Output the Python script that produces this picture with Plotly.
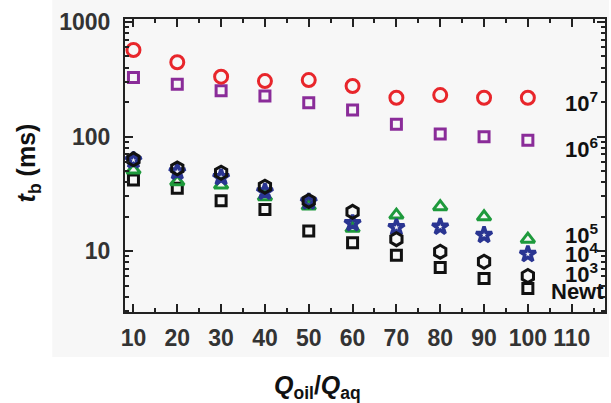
import plotly.graph_objects as go

# Oil-to-aqueous flow-rate ratio
ratio = [10, 20, 30, 40, 50, 60, 70, 80, 90, 100]

# Breakup time t_b (ms) for each molecular weight
tb_1e7 = [569, 445, 333, 305, 311, 276, 218, 230, 218, 218]
tb_1e6 = [327, 286, 251, 226, 197, 170, 128, 105, 99.5, 93]
tb_1e5 = [51, 40.3, 37.7, 29.8, 24.7, 15.8, 20.6, 24.4, 19.9, 12.7]
tb_1e4 = [62, 49.3, 44, 33, 27, 17.5, 16.1, 16.3, 13.8, 9.4]
tb_1e3 = [63.2, 52.7, 48.3, 36.5, 27.4, 22, 12.7, 9.86, 8.07, 6.05]
tb_newt = [41.7, 35.3, 27.5, 23.1, 15.0, 11.8, 9.2, 7.2, 5.77, 4.72]

x_ticks = [10, 20, 30, 40, 50, 60, 70, 80, 90, 100, 110]
y_ticks = [10, 100, 1000]

series = [
    ("Newt", tb_newt, "square-open", "#111111", 10, 3),
    ("10^5", tb_1e5, "triangle-up-open", "#1e9a3c", 12, 3),
    ("10^4", tb_1e4, "star-open", "#2a3592", 12, 3.5),
    ("10^3", tb_1e3, "hexagon-open", "#111111", 13, 3),
    ("10^6", tb_1e6, "square-open", "#8a2c99", 10, 3),
    ("10^7", tb_1e7, "circle-open", "#e8262b", 13, 3),
]

fig = go.Figure()
for name, vals, sym, col, size, lw in series:
    fig.add_trace(go.Scatter(
        x=ratio, y=vals, mode="markers", name=name,
        marker=dict(symbol=sym, size=size, color=col,
                    line=dict(color=col, width=lw)),
        showlegend=False,
    ))

font_main = "Liberation Sans, Arial, sans-serif"
W, H = 611, 403
L, R, T, B = 125, 4, 19, 91
pw, ph = W - L - R, H - T - B


def px(x):
    return (x - L) / pw


def py(y):
    return (H - B - y) / ph


axis_common = dict(
    showline=True, linecolor="#222222", linewidth=2,
    mirror="ticks", ticks="inside", tickcolor="#222222",
    tickwidth=1.5, showgrid=False, zeroline=False,
    tickfont=dict(family=font_main, size=23, color="#333333", weight="bold"),
)

fig.update_xaxes(
    range=[8.07, 117.6], tickvals=x_ticks, ticklen=8,
    minor=dict(ticks="inside", ticklen=4, dtick=5, tick0=5,
               tickcolor="#222222", tickwidth=1.5),
    ticklabelstandoff=4,
    **axis_common,
)
fig.update_yaxes(
    type="log", range=[0.468, 3.026], tickvals=y_ticks, ticklen=8,
    minor=dict(ticks="inside", ticklen=4, dtick="D1",
               tickcolor="#222222", tickwidth=1.5),
    ticklabelstandoff=8,
    **axis_common,
)

# Series labels along the right edge
labels = [
    ("10<sup>7</sup>", 565, 102),
    ("10<sup>6</sup>", 565, 148),
    ("10<sup>5</sup>", 565, 234),
    ("10<sup>4</sup>", 565, 253),
    ("10<sup>3</sup>", 565, 273),
    ("Newt", 551, 291),
]
annotations = []
for txt, lx, ly in labels:
    annotations.append(dict(
        text="<b>" + txt + "</b>", x=px(lx), y=py(ly), xref="paper", yref="paper",
        xanchor="left", yanchor="middle", showarrow=False,
        font=dict(family=font_main, size=22, color="#111111"),
    ))

# Axis titles
annotations.append(dict(
    text="<b><i>t</i><sub>b</sub> (ms)</b>", x=px(28), y=py(163),
    xref="paper", yref="paper", textangle=-90, showarrow=False,
    xanchor="center", yanchor="middle",
    font=dict(family=font_main, size=25, color="#111111"),
))
annotations.append(dict(
    text="<b><i>Q</i><sub>oil</sub>/<i>Q</i><sub>aq</sub></b>", x=px(318), y=py(387),
    xref="paper", yref="paper", showarrow=False,
    xanchor="center", yanchor="middle",
    font=dict(family=font_main, size=25, color="#111111"),
))

fig.update_layout(
    width=W, height=H,
    margin=dict(l=L, r=R, t=T, b=B),
    paper_bgcolor="white", plot_bgcolor="rgba(0,0,0,0)",
    annotations=annotations,
    shapes=[dict(
        type="rect", xref="paper", yref="paper", layer="below",
        x0=px(52), x1=px(611), y0=py(357), y1=py(0),
        fillcolor="#f7f7f7", line=dict(width=0),
    )],
)

fig.write_html("out.html")
